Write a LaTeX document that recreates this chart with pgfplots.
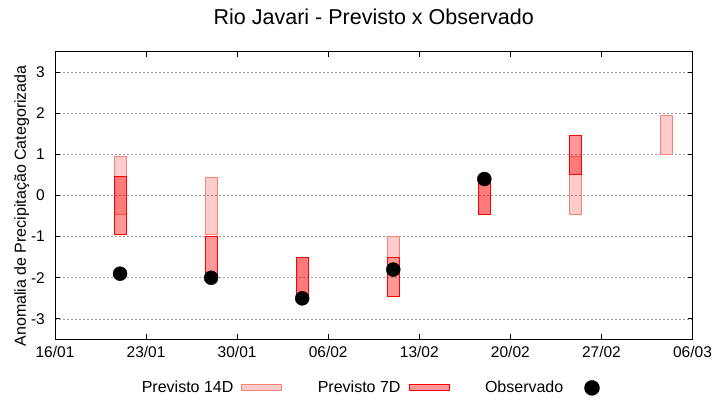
\documentclass[border=0pt]{standalone}
\usepackage{fontspec}
\setmainfont{Liberation Sans}
\usepackage{pgfplots}
\usepackage{pgfplotstable}
\pgfplotsset{compat=1.18}

\definecolor{edgeA}{HTML}{F4837A}

% days counted from 16/01
\pgfplotstableread{
x  lo     hi
5  -0.45  0.95
12 -0.95  0.45
19 -2.5   -1.5
26 -1.5   -1.0
33 -0.45  0.45
40 -0.45  0.95
47 1.0    1.95
}\prevA
\pgfplotstableread{
x  lo     hi
5  -0.95  0.45
12 -2.0   -1.0
19 -2.5   -1.5
26 -2.45  -1.5
33 -0.45  0.45
40 0.5    1.45
}\prevB
\pgfplotstableread{
x  y
5  -1.9
12 -2.0
19 -2.5
26 -1.8
33 0.4
}\obs

\tikzset{
  p14/.style={fill=red, fill opacity=0.2, draw=edgeA, draw opacity=1, line width=0.9bp},
  p7/.style={fill=red, fill opacity=0.4, draw=red, draw opacity=1, line width=1bp},
}
\pgfplotsset{
  base/.style={scale only axis, width=637.5bp, height=288bp,
    xmin=0, xmax=49, ymin=-3.5, ymax=3.5},
}

\begin{document}
\begin{tikzpicture}
\begin{axis}[base,
  ybar stacked, stack negative=on previous, bar width=0.93,
  axis line style={line width=0.9bp},
  tick style={black, line width=0.9bp},
  tick align=inside, major tick length=5bp,
  xtick={0,7,...,49},
  xticklabels={16/01,23/01,30/01,06/02,13/02,20/02,27/02,06/03},
  ytick={-3,...,3},
  yticklabels={-3,-2,-1,0,1,2,3},
  ymajorgrids,
  grid style={gray!80, dash pattern=on 2bp off 2bp, line width=0.8bp},
  every tick label/.append style={font=\fontsize{15.5bp}{18bp}\selectfont},
  xticklabel style={anchor=base, yshift=-18bp},
  yticklabel style={anchor=east, inner sep=0pt, xshift=-10bp},
  title={Rio Javari - Previsto x Observado},
  title style={font=\fontsize{21.5bp}{25bp}\selectfont, at={(0.5,1)}, anchor=base, yshift=21.5bp},
  ylabel={Anomalia de Precipitação Categorizada},
  every axis y label/.style={at={([xshift=-29bp]rel axis cs:0,0.464)}, rotate=90, anchor=base,
    font=\fontsize{16bp}{19bp}\selectfont},
  legend columns=3, legend plot pos=right,
  legend style={draw=none, fill=none, at={(0.4953,-0.168)}, anchor=center,
    font=\fontsize{16bp}{19bp}\selectfont, nodes={inner sep=0pt},
    /tikz/every odd column/.append style={column sep=8bp},
    /tikz/every even column/.append style={column sep=35.5bp}},
]
\coordinate (o) at (rel axis cs:0,0);
\addplot[draw=none, fill=none, forget plot] table[x=x, y=lo] {\prevA};
\addplot[p14, legend image code/.code={\draw[p14] (0bp,-3bp) rectangle (40bp,3bp);}]
  table[x=x, y expr=\thisrow{hi}-\thisrow{lo}] {\prevA};
\addlegendentry{Previsto 14D}
\addlegendimage{legend image code/.code={\draw[p7] (0bp,-3bp) rectangle (40bp,3bp);}}
\addlegendentry{Previsto 7D}
\addlegendimage{legend image code/.code={\path (0bp,0bp); \fill[black] (20.5bp,0bp) circle (7.5bp);}}
\addlegendentry{Observado}
\end{axis}

\begin{axis}[base, hide axis, ybar stacked, stack negative=on previous, bar width=0.93]
\addplot[draw=none, fill=none] table[x=x, y=lo] {\prevB};
\addplot[p7] table[x=x, y expr=\thisrow{hi}-\thisrow{lo}] {\prevB};
\end{axis}

\begin{axis}[base, hide axis]
\addplot[only marks, mark=*, mark size=7bp, black] table[x=x, y=y] {\obs};
\end{axis}

\pgfresetboundingbox
\path (o) ++(-55bp,-60.5bp) rectangle ++(720bp,400bp);
\end{tikzpicture}
\end{document}
